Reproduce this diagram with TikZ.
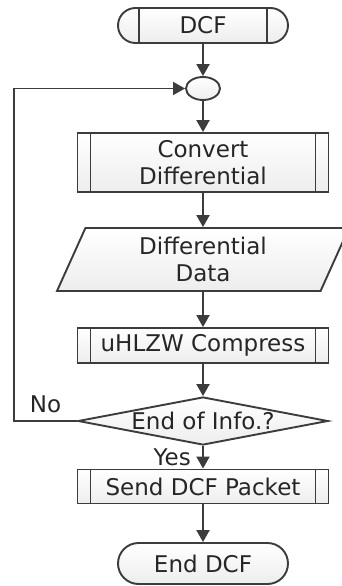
\documentclass[tikz,border=0pt]{standalone}
\usepackage{fontspec}
\setmainfont{DejaVu Sans}
\usetikzlibrary{shapes.geometric,shapes.misc,arrows.meta}
\definecolor{linegray}{HTML}{3C3C3C}
\definecolor{textgray}{HTML}{262626}
\tikzset{
  box/.style={draw=linegray, line width=1.9pt, top color=white, bottom color=gray!14,
    text=textgray, font=\fontsize{23}{27}\selectfont, align=center, inner sep=0pt},
  process/.style={box, minimum width=251pt,
    path picture={\draw[linegray, line width=1.9pt]
      ([xshift=13pt]path picture bounding box.north west) -- ([xshift=13pt]path picture bounding box.south west)
      ([xshift=-13pt]path picture bounding box.north east) -- ([xshift=-13pt]path picture bounding box.south east);}},
  terminal/.style={box, rounded rectangle, minimum width=170pt},
  startbox/.style={terminal, minimum height=35pt,
    path picture={\draw[linegray, line width=1.9pt]
      ([xshift=21pt]path picture bounding box.north west) -- ([xshift=21pt]path picture bounding box.south west)
      ([xshift=-21pt]path picture bounding box.north east) -- ([xshift=-21pt]path picture bounding box.south east);}},
  junction/.style={box, ellipse, minimum width=34pt, minimum height=23pt},
  iodata/.style={box, trapezium, trapezium left angle=57.6, trapezium right angle=122.4,
    trapezium stretches body, minimum width=292pt, minimum height=63pt},
  decision/.style={box, diamond, aspect=5, minimum width=250pt, minimum height=48pt},
  flow/.style={draw=linegray, line width=1.9pt, -{Triangle[width=13pt,length=12pt]}},
  lbl/.style={text=textgray, font=\fontsize{23}{27}\selectfont}
}
\begin{document}
\begin{tikzpicture}[x=1pt,y=-1pt]
    \useasboundingbox (0,0) rectangle (342,586);
    \node[startbox] (dcf) at (203,25.5) {DCF};
    \node[junction] (merge) at (203,88.5) {};
    \node[process, minimum height=59pt] (convert) at (203,162.5) {Convert\\Differential};
    \node[iodata] (data) at (203,259.5) {Differential\\Data};
    \node[process, minimum height=35pt] (compress) at (203,345.5) {uHLZW Compress};
    \node[decision] (check) at (203,421) {End of Info.?};
    \node[process, minimum height=34pt] (send) at (203,486.5) {Send DCF Packet};
    \node[terminal, minimum height=41pt] (enddcf) at (203,563.5) {End DCF};
    \draw[flow] (dcf) -- (merge);
    \draw[flow] (merge) -- (convert);
    \draw[flow] (convert) -- (data);
    \draw[flow] (data) -- (compress);
    \draw[flow] (compress) -- (check);
    \draw[flow] (check) -- (send) node[lbl, midway, left=8pt] {Yes};
    \draw[flow] (send) -- (enddcf);
    \draw[flow] (check.west) -- ++(-63,0) node[lbl, midway, above=4pt] {No} |- (merge.west);
  \end{tikzpicture}
\end{document}
